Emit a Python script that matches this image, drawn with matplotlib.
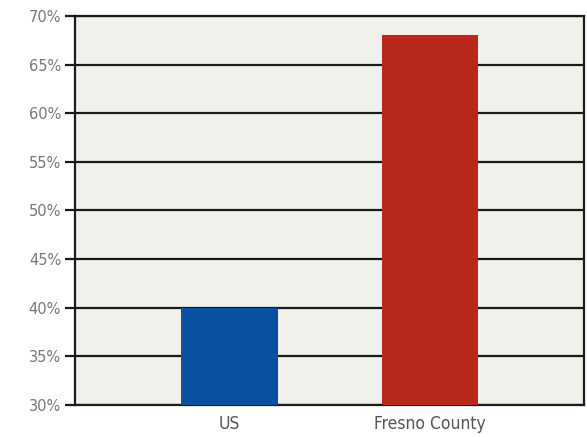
import matplotlib.pyplot as plt
from matplotlib.ticker import FuncFormatter

categories = ["US", "Fresno County"]
values = [40, 68]
colors = ["#0A50A0", "#B8281C"]
yticks = [30, 35, 40, 45, 50, 55, 60, 65, 70]

plt.rcParams['font.family'] = ['DejaVu Sans']

fig = plt.figure(figsize=(5.87, 4.37), dpi=100)
ax = fig.add_axes([75 / 587, 32 / 437, 509 / 587, 389 / 437])
ax.set_facecolor("#F2F0EA")

x = list(range(len(categories)))
ax.bar(x, values, width=0.48, color=colors, zorder=3)

ax.set_ylim(30, 70)
ax.set_xlim(-0.77, 1.768)
ax.set_yticks(yticks)
ax.yaxis.set_major_formatter(FuncFormatter(lambda v, p: f"{int(v)}%"))
ax.set_xticks(x)
ax.set_xticklabels(categories, fontstretch='condensed')

ax.grid(axis='y', color='#1a1a1a', linewidth=1.6, zorder=1)
ax.set_axisbelow(True)

for s in ax.spines.values():
    s.set_color('#1a1a1a')
    s.set_linewidth(1.6)

ax.tick_params(axis='y', length=7, width=1.6, color='#1a1a1a', labelsize=10.5, labelcolor='#777777', pad=3)
ax.tick_params(axis='x', length=0, labelsize=12.5, labelcolor='#555555', pad=7)

fig.savefig("out.png", dpi=100)
